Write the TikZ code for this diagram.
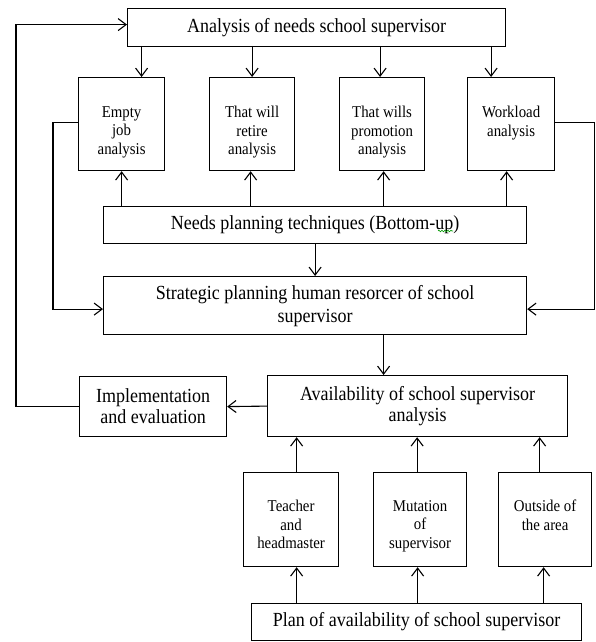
\documentclass[tikz,border=0pt]{standalone}
\usepackage{fontspec}
\setmainfont{Liberation Serif}[FakeStretch=0.9]
\usetikzlibrary{arrows.meta,calc,decorations.pathmorphing}
\begin{document}
\begin{tikzpicture}[x=1pt,y=-1pt,
  box/.style={draw,line width=1.2pt,inner sep=0pt,anchor=north west},
  big/.style={font=\fontsize{20}{21}\selectfont,align=center},
  small/.style={font=\fontsize{16.5}{18.5}\selectfont,align=center,inner sep=0pt,anchor=north},
  arr/.style={line width=1.1pt,-{Straight Barb[length=8pt,width=12pt,line width=1.1pt]}}]
\useasboundingbox[fill=white] (0,0) rectangle (595,642);

% top box
\node[box,big,minimum width=378pt,minimum height=38pt] (top) at (127,8) {Analysis of needs school supervisor};

% four analysis boxes
\node[box,minimum width=86pt,minimum height=93pt] (empty) at (78,77) {};
\node[box,minimum width=85pt,minimum height=93pt] (retire) at (209,77) {};
\node[box,minimum width=85pt,minimum height=93pt] (promo) at (339,77) {};
\node[box,minimum width=87pt,minimum height=93pt] (work) at (467,77) {};
\node[small] (temp) at ($(empty.north)+(0,29)$) {Empty\\job\\analysis};
\node[small] (tret) at ($(retire.north)+(0,29)$) {That will\\retire\\analysis};
\node[small] (tpro) at ($(promo.north)+(0,29)$) {That wills\\promotion\\analysis};
\node[small] (twor) at ($(work.north)+(0,29)$) {Workload\\analysis};

% needs planning
\node[box,big,minimum width=423pt,minimum height=37pt] (needs) at (103,206) {Needs planning techniques (Bottom-up)};
\draw[green!60!black,line width=0.6pt,decorate,decoration={snake,amplitude=0.8pt,segment length=3pt}] (438,231) -- (453,231);

% strategic
\node[box,big,font=\fontsize{20}{23}\selectfont,minimum width=423pt,minimum height=58pt] (strat) at (103,276) {Strategic planning human resorcer of school\\supervisor};

% implementation / availability
\node[box,big,minimum width=147pt,minimum height=60pt] (impl) at (79,376) {Implementation\\and evaluation};
\node[box,big,minimum width=300pt,minimum height=61pt] (avail) at (267,375) {Availability of school supervisor\\analysis};

% bottom boxes
\node[box,minimum width=95pt,minimum height=94pt] (teach) at (243,472) {};
\node[box,minimum width=93pt,minimum height=94pt] (mut) at (373,472) {};
\node[box,minimum width=93pt,minimum height=94pt] (out) at (498,472) {};
\node[small] (tteach) at ($(teach.north)+(0,28)$) {Teacher\\and\\headmaster};
\node[small] (tmut) at ($(mut.north)+(0,28)$) {Mutation\\of\\supervisor};
\node[small] (tout) at ($(out.north)+(0,28)$) {Outside of\\the area};

\node[box,big,minimum width=330pt,minimum height=37pt] (plan) at (251,603) {Plan of availability of school supervisor};

% arrows top -> analysis boxes
\draw[arr] ($(empty.north)+(20,-31)$) -- ($(empty.north)+(20,0)$);
\draw[arr] ($(retire.north)+(0,-31)$) -- (retire.north);
\draw[arr] ($(promo.north)+(-2,-31)$) -- ($(promo.north)+(-2,0)$);
\draw[arr] ($(work.north)+(-20,-31)$) -- ($(work.north)+(-20,0)$);

% needs -> analysis boxes
\draw[arr] (needs.north -| empty.south) -- (empty.south);
\draw[arr] ($(needs.north -| retire.south)+(-1.5,0)$) -- ($(retire.south)+(-1.5,0)$);
\draw[arr] ($(needs.north -| promo.south)+(1.5,0)$) -- ($(promo.south)+(1.5,0)$);
\draw[arr] ($(needs.north -| work.south)+(-4.5,0)$) -- ($(work.south)+(-4.5,0)$);

% side lines to strategic
\draw[arr] ($(empty.west)+(0,-1.5)$) -- ++(-25,0) |- ($(strat.west)+(0,3.5)$);
\draw[arr] ($(work.east)+(0,-1.5)$) -- ++(39,0) |- ($(strat.east)+(0,3.5)$);

% needs -> strategic
\draw[arr] (needs.south) -- (strat.north);
% strategic -> availability
\draw[arr] ($(strat.south)+(68.5,0)$) -- ($(avail.north)+(-34,0)$);
% availability -> implementation
\draw[arr] (avail.west) -- (impl.east);
% loop back to top
\draw[arr] (impl.west) -- ++(-63,0) |- ($(top.west)+(0,-3)$);

% bottom arrows
\draw[arr] ($(teach.north)+(5.5,0)$) -- ($(teach.north |- avail.south)+(5.5,0)$);
\draw[arr] ($(mut.north)+(-3,0)$) -- ($(mut.north |- avail.south)+(-3,0)$);
\draw[arr] ($(out.north)+(-5.5,0)$) -- ($(out.north |- avail.south)+(-5.5,0)$);
\draw[arr] ($(plan.north -| teach.south)+(5.5,0)$) -- ($(teach.south)+(5.5,0)$);
\draw[arr] ($(plan.north -| mut.south)+(-2.5,0)$) -- ($(mut.south)+(-2.5,0)$);
\draw[arr] ($(plan.north -| out.south)+(-1.5,0)$) -- ($(out.south)+(-1.5,0)$);
\end{tikzpicture}
\end{document}
